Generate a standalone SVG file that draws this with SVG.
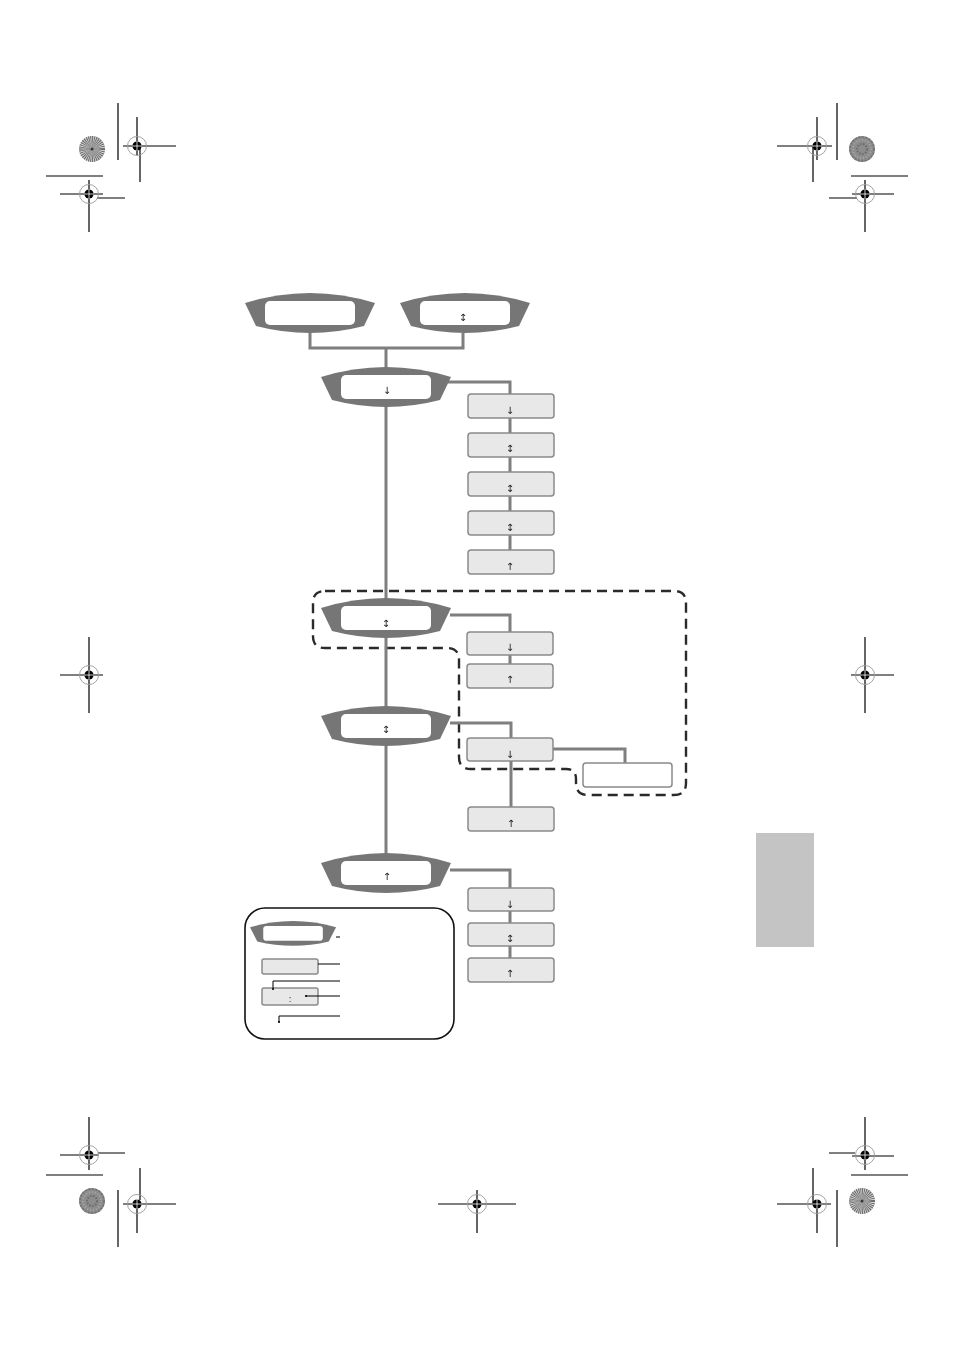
<svg xmlns="http://www.w3.org/2000/svg" xmlns:xlink="http://www.w3.org/1999/xlink" width="954" height="1350" viewBox="0 0 954 1350">
<style>
.conn{fill:none;stroke:#7f7f7f;stroke-width:3}
.box{fill:#e8e8e8;stroke:#8a8a8a;stroke-width:1.5}
.wbox{fill:#fff;stroke:#8a8a8a;stroke-width:1.5}
.g{font-family:"DejaVu Sans",sans-serif;font-size:10px;fill:#222;text-anchor:middle}
.reg{stroke:#000;stroke-width:1.2;fill:none}
.leg{stroke:#000;stroke-width:1;fill:none}
.dash{fill:none;stroke:#2a2a2a;stroke-width:2.4;stroke-dasharray:10 6}
</style>
<defs>
<filter id="gray" filterUnits="userSpaceOnUse" x="0" y="0" width="954" height="1350" color-interpolation-filters="sRGB">
<feColorMatrix type="saturate" values="0"/>
</filter>
<g id="disp">
<path d="M0,10 Q65,-10 130,10 L119,33 Q65,47 11,33 Z" fill="#767676"/>
<rect x="20" y="8" width="90" height="24" rx="5" fill="#fff"/>
</g>
<g id="tgt">
<circle r="9.5" fill="none" stroke="#999" stroke-width="0.9"/>
<circle r="4.6" fill="#000"/>
<path d="M-5,0H5M0,-5V5" stroke="#fff" stroke-width="0.8"/>
</g>
<g id="burst">
<circle r="13" fill="#e4e4e4"/>
<circle r="6.5" fill="none" stroke="#6e6e6e" stroke-width="13" stroke-dasharray="0.7 0.45"/>
<circle r="1.5" fill="#333"/>
</g>
<g id="mottle">
<circle r="13" fill="#8c8c8c"/>
<circle r="9" fill="none" stroke="#a8a8a8" stroke-width="2" stroke-dasharray="1 2"/>
<circle r="5" fill="none" stroke="#6a6a6a" stroke-width="2" stroke-dasharray="1.5 1.5"/>
<circle r="12" fill="none" stroke="#707070" stroke-width="1.5" stroke-dasharray="2 1.5"/>
</g>
</defs>
<rect width="954" height="1350" fill="#fff"/>

<g id="registration-marks">
<use href="#burst" x="92" y="149"/>
<use href="#mottle" x="862" y="149"/>
<use href="#mottle" x="92" y="1201"/>
<use href="#burst" x="862" y="1201"/>
<path class="reg" d="M118,103V160 M123,146H176 M137,117V155 M140,146V182 M46,176H103 M60,194H103 M97,198H125 M89,180V232"/>
<path class="reg" d="M777,146H832 M817,117V160 M813,146V182 M837,103V160 M851,176H908 M829,198H857 M852,194H894 M865,180V232"/>
<path class="reg" d="M60,675H103 M89,637V713 M851,675H894 M865,637V713 M438,1204H516 M477,1190V1233"/>
<path class="reg" d="M60,1155H98 M98,1153H125 M89,1117V1170 M46,1175H103 M118,1190V1247 M123,1204H176 M140,1168V1200 M137,1204V1233"/>
<path class="reg" d="M829,1153H855 M852,1156H894 M865,1117V1170 M851,1175H908 M777,1204H831 M813,1168V1205 M817,1204V1233 M837,1190V1247"/>
<use href="#tgt" x="137" y="146"/>
<use href="#tgt" x="89" y="194"/>
<use href="#tgt" x="817" y="146"/>
<use href="#tgt" x="865" y="194"/>
<use href="#tgt" x="89" y="675"/>
<use href="#tgt" x="865" y="675"/>
<use href="#tgt" x="477" y="1204"/>
<use href="#tgt" x="89" y="1155"/>
<use href="#tgt" x="137" y="1204"/>
<use href="#tgt" x="865" y="1155"/>
<use href="#tgt" x="817" y="1204"/>
</g>

<g id="side-tab"><rect x="756" y="833" width="58" height="114" fill="#c4c4c4"/></g>

<g id="group-outline"><path class="dash" d="M325,591 H674 Q686,591 686,603 V783 Q686,795 674,795 H588 Q576,795 576,783 V779 Q576,769 566,769 H471 Q459,769 459,757 V660 Q459,648 447,648 H325 Q313,648 313,636 V603 Q313,591 325,591 Z"/></g>

<g id="connectors">
<path class="conn" d="M310,333V348H463V333"/>
<path class="conn" d="M386,348V860"/>
<path class="conn" d="M448,382H510V562"/>
<path class="conn" d="M450,615H510V670"/>
<path class="conn" d="M450,723H511V815"/>
<path class="conn" d="M553,749H625V763"/>
<path class="conn" d="M450,870H510V965"/>
</g>

<g id="nodes" filter="url(#gray)">
<g id="display-1"><use href="#disp" x="245" y="293"/></g>
<g id="display-2"><use href="#disp" x="400" y="293"/><text class="g" x="463" y="321">↕</text></g>
<g id="display-3"><use href="#disp" x="321" y="367"/><text class="g" x="387" y="394">↓</text></g>
<g id="display-4"><use href="#disp" x="321" y="598"/><text class="g" x="386" y="627">↕</text></g>
<g id="display-5"><use href="#disp" x="321" y="706"/><text class="g" x="386" y="733">↕</text></g>
<g id="display-6"><use href="#disp" x="321" y="853"/><text class="g" x="387" y="880">↑</text></g>

<g id="box-1"><rect class="box" x="468" y="394" width="86" height="24" rx="3"/><text class="g" x="510" y="414">↓</text></g>
<g id="box-2"><rect class="box" x="468" y="433" width="86" height="24" rx="3"/><text class="g" x="510" y="452">↕</text></g>
<g id="box-3"><rect class="box" x="468" y="472" width="86" height="24" rx="3"/><text class="g" x="510" y="492">↕</text></g>
<g id="box-4"><rect class="box" x="468" y="511" width="86" height="24" rx="3"/><text class="g" x="510" y="531">↕</text></g>
<g id="box-5"><rect class="box" x="468" y="550" width="86" height="24" rx="3"/><text class="g" x="510" y="570">↑</text></g>

<g id="box-a"><rect class="box" x="467" y="632" width="86" height="23" rx="3"/><text class="g" x="510" y="651">↓</text></g>
<g id="box-b"><rect class="box" x="467" y="664" width="86" height="24" rx="3"/><text class="g" x="510" y="683">↑</text></g>
<g id="box-c"><rect class="box" x="467" y="738" width="86" height="23" rx="3"/><text class="g" x="510" y="758">↓</text></g>
<g id="box-d"><rect class="wbox" x="583" y="763" width="89" height="24" rx="3"/></g>
<g id="box-e"><rect class="box" x="468" y="807" width="86" height="24" rx="3"/><text class="g" x="511" y="827">↑</text></g>

<g id="box-f"><rect class="box" x="468" y="888" width="86" height="23" rx="3"/><text class="g" x="510" y="908">↓</text></g>
<g id="box-g"><rect class="box" x="468" y="923" width="86" height="23" rx="3"/><text class="g" x="510" y="942">↕</text></g>
<g id="box-h"><rect class="box" x="468" y="958" width="86" height="24" rx="3"/><text class="g" x="510" y="977">↑</text></g>
</g>

<g id="legend">
<rect x="245" y="908" width="209" height="131" rx="20" fill="none" stroke="#111" stroke-width="1.6"/>
<g transform="translate(250,921) scale(0.662,0.62)"><use href="#disp"/></g>
<rect class="box" x="262" y="959" width="56" height="15" rx="2"/>
<rect class="box" x="262" y="988" width="56" height="17" rx="2"/>
<text class="g" x="290" y="1002" style="font-size:8px" filter="url(#gray)">:</text>
<path class="leg" d="M336,937H340 M318,964H340 M340,981H273V988 M340,996H306 M340,1016H279V1022"/>
<circle cx="273" cy="989" r="1.1"/>
<circle cx="306" cy="996" r="1.1"/>
<circle cx="279" cy="1022" r="1.1"/>
</g>
</svg>
